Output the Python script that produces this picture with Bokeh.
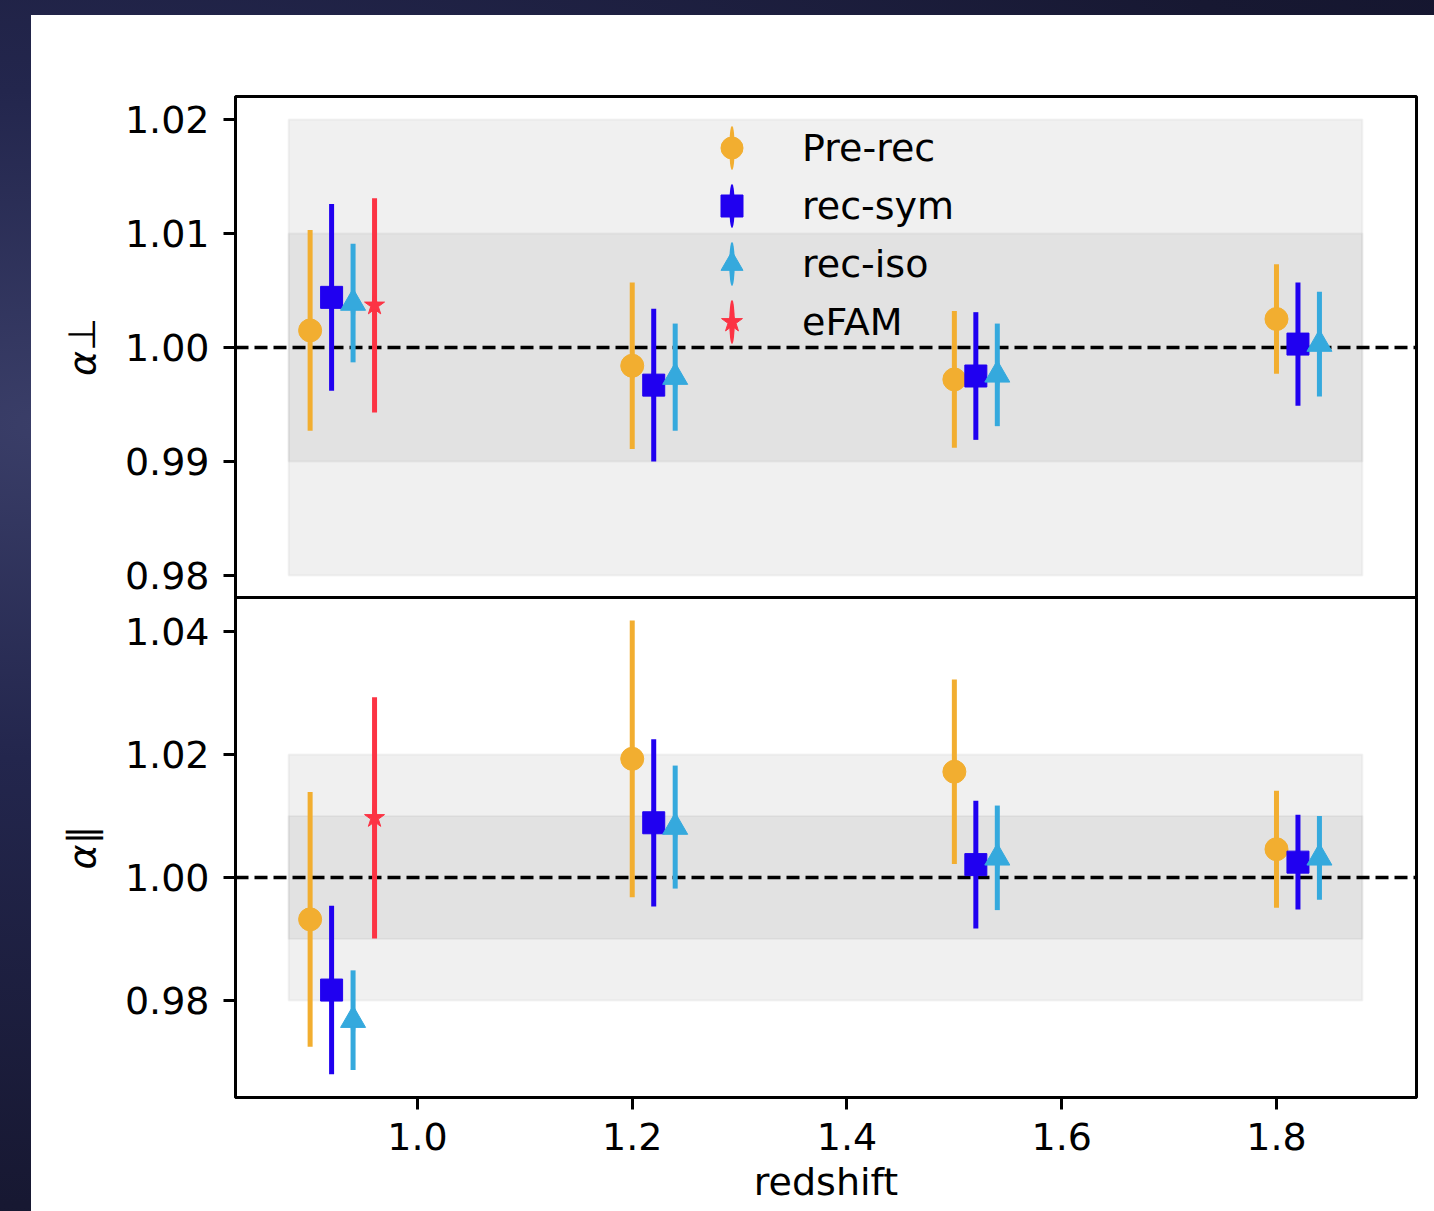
import numpy as np
from bokeh.plotting import figure
from bokeh.models import (ColumnDataSource, Span, Legend, LegendItem,
                          FixedTicker, PrintfTickFormatter, Range1d, Spacer)
from bokeh.layouts import column, row
from bokeh.embed import file_html
from bokeh.resources import INLINE

# ---------------------------------------------------------------- data
methods = ["Pre-rec", "rec-sym", "rec-iso", "eFAM"]

z_prerec = [0.90, 1.20, 1.50, 1.80]
z_recsym = [0.92, 1.22, 1.52, 1.82]
z_reciso = [0.94, 1.24, 1.54, 1.84]
z_efam = [0.96]

# alpha_perp
aperp_prerec = [1.0015, 0.9984, 0.9972, 1.0025]
aperp_prerec_err = [0.0088, 0.0073, 0.0060, 0.0048]
aperp_recsym = [1.0044, 0.9967, 0.9975, 1.0003]
aperp_recsym_err = [0.0082, 0.0067, 0.0056, 0.0054]
aperp_reciso = [1.0039, 0.9974, 0.9976, 1.0003]
aperp_reciso_err = [0.0052, 0.0047, 0.0045, 0.0046]
aperp_efam = [1.0037]
aperp_efam_err = [0.0094]

# alpha_parallel
apar_prerec = [0.9932, 1.0193, 1.0172, 1.0046]
apar_prerec_err = [0.0207, 0.0225, 0.0150, 0.0095]
apar_recsym = [0.9817, 1.0089, 1.0021, 1.0025]
apar_recsym_err = [0.0137, 0.0136, 0.0104, 0.0077]
apar_reciso = [0.9768, 1.0082, 1.0032, 1.0032]
apar_reciso_err = [0.0081, 0.0100, 0.0085, 0.0068]
apar_efam = [1.0097]
apar_efam_err = [0.0196]

# 1% and 2% reference bands over the redshift span
band_z = [0.88, 1.88]
band_inner = [0.99, 1.01]
band_outer = [0.98, 1.02]

x_ticks = [1.0, 1.2, 1.4, 1.6, 1.8]
aperp_ticks = [0.98, 0.99, 1.00, 1.01, 1.02]
apar_ticks = [0.98, 1.00, 1.02, 1.04]

# ---------------------------------------------------------------- style
FONT = "DejaVu Sans"
FS = "38px"
STYLE = {
    "Pre-rec": dict(color="#f2ae30", marker="circle", size=23),
    "rec-sym": dict(color="#2000f0", marker="square", size=22),
    "rec-iso": dict(color="#35a9dd", marker="triangle", size=25),
    "eFAM": dict(color="#fc3344", marker="star", size=21),
}

X_LO, X_HI = 0.8305, 1.9304
x_range = Range1d(X_LO, X_HI)
OVERLAP = 8  # extra canvas below the upper panel, hidden under the lower one


def style_axis(ax):
    ax.axis_line_width = 3
    ax.axis_line_color = "black"
    ax.major_tick_line_width = 3
    ax.major_tick_line_color = "black"
    ax.major_tick_out = 12
    ax.major_tick_in = 0
    ax.minor_tick_line_color = None
    ax.major_label_text_font = FONT
    ax.major_label_text_font_size = FS
    ax.major_label_text_color = "black"
    ax.axis_label_text_font = FONT
    ax.axis_label_text_font_size = FS
    ax.axis_label_text_color = "black"


def make_panel(y_lo, y_hi, yticks, series, ylabel, frame_h, top_b, bottom_b, with_x,
               margin=(0, 0, 0, 0)):
    p = figure(frame_width=1181, frame_height=frame_h,
               x_range=x_range, y_range=Range1d(y_lo, y_hi),
               x_axis_location="below" if with_x else None,
               output_backend="svg", toolbar_location=None,
               min_border_left=204, min_border_right=18,
               min_border_top=top_b, min_border_bottom=bottom_b,
               background_fill_color="white", border_fill_color="white",
               margin=margin)
    p.grid.visible = False
    p.outline_line_color = "black"
    p.outline_line_width = 3
    p.outline_line_alpha = 1.0

    # shaded bands
    for lo_hi in (band_outer, band_inner):
        p.quad(left=[band_z[0]], right=[band_z[1]], bottom=[lo_hi[0]], top=[lo_hi[1]],
               fill_color="#808080", fill_alpha=0.12,
               line_color="#808080", line_alpha=0.08, line_width=2, level="image")

    p.add_layout(Span(location=1.0, dimension="width", line_color="black",
                      line_width=3.5, line_dash="13 6", level="underlay"))

    items = []
    for name, (zs, vals, errs) in series.items():
        st = STYLE[name]
        v = np.asarray(vals)
        e = np.asarray(errs)
        src = ColumnDataSource(dict(x=zs, y=v, lo=v - e, hi=v + e))
        # short vertical stroke used by the legend entry (hidden under the error bar)
        stub = p.ellipse(x="x", y="y", width=5, height=40,
                         width_units="screen", height_units="screen",
                         fill_color=st["color"], line_color=None, source=src)
        p.segment(x0="x", y0="lo", x1="x", y1="hi", line_color=st["color"],
                  line_width=5, line_cap="butt", source=src)
        mk = p.scatter(x="x", y="y", marker=st["marker"], size=st["size"],
                       fill_color=st["color"], line_color=st["color"],
                       line_width=1, source=src)
        items.append(LegendItem(label=name, renderers=[stub, mk]))

    ay = p.yaxis[0]
    style_axis(ay)
    ay.ticker = FixedTicker(ticks=yticks)
    ay.formatter = PrintfTickFormatter(format="%.2f")
    ay.major_label_standoff = 14
    ay.axis_label = ylabel
    ay.axis_label_text_font_style = "italic"
    ay.axis_label_standoff = 18

    if with_x:
        ax = p.xaxis[0]
        style_axis(ax)
        ax.ticker = FixedTicker(ticks=x_ticks)
        ax.formatter = PrintfTickFormatter(format="%.1f")
        ax.major_label_standoff = 13
        ax.axis_label = "redshift"
        ax.axis_label_text_font_style = "normal"
        ax.axis_label_standoff = 7
    return p, items


# ---------------------------------------------------------------- top panel: alpha_perp
top_series = {
    "Pre-rec": (z_prerec, aperp_prerec, aperp_prerec_err),
    "rec-sym": (z_recsym, aperp_recsym, aperp_recsym_err),
    "rec-iso": (z_reciso, aperp_reciso, aperp_reciso_err),
    "eFAM": (z_efam, aperp_efam, aperp_efam_err),
}
top, legend_items = make_panel(0.97807, 1.02202, aperp_ticks, top_series, "α⊥",
                               501, 81, OVERLAP, False, margin=(0, 0, -OVERLAP, 0))

legend = Legend(items=legend_items, location=(469, 248), orientation="vertical",
                glyph_width=55, glyph_height=55, label_standoff=43, spacing=3,
                padding=0, margin=0, border_line_alpha=0, background_fill_alpha=0,
                label_text_font=FONT, label_text_font_size=FS, label_text_color="black")
top.add_layout(legend)

# ---------------------------------------------------------------- bottom panel: alpha_parallel
bot_series = {
    "Pre-rec": (z_prerec, apar_prerec, apar_prerec_err),
    "rec-sym": (z_recsym, apar_recsym, apar_recsym_err),
    "rec-iso": (z_reciso, apar_reciso, apar_reciso_err),
    "eFAM": (z_efam, apar_efam, apar_efam_err),
}
bottom, _ = make_panel(0.96423, 1.04553, apar_ticks, bot_series, "α∥",
                       500, 0, 114, True)

# ---------------------------------------------------------------- page
panels = column(top, bottom, spacing=0, styles={"background": "white"})
page = column(
    Spacer(width=1434, height=15),
    row(Spacer(width=31, height=1196), panels, spacing=0),
    spacing=0,
    styles={"background": "radial-gradient(ellipse at 3% 35%, #3a3e68 0%, #23264d 30%, #171832 70%, #12132b 100%)"},
)

open("out.html", "w").write(file_html(page, INLINE))
